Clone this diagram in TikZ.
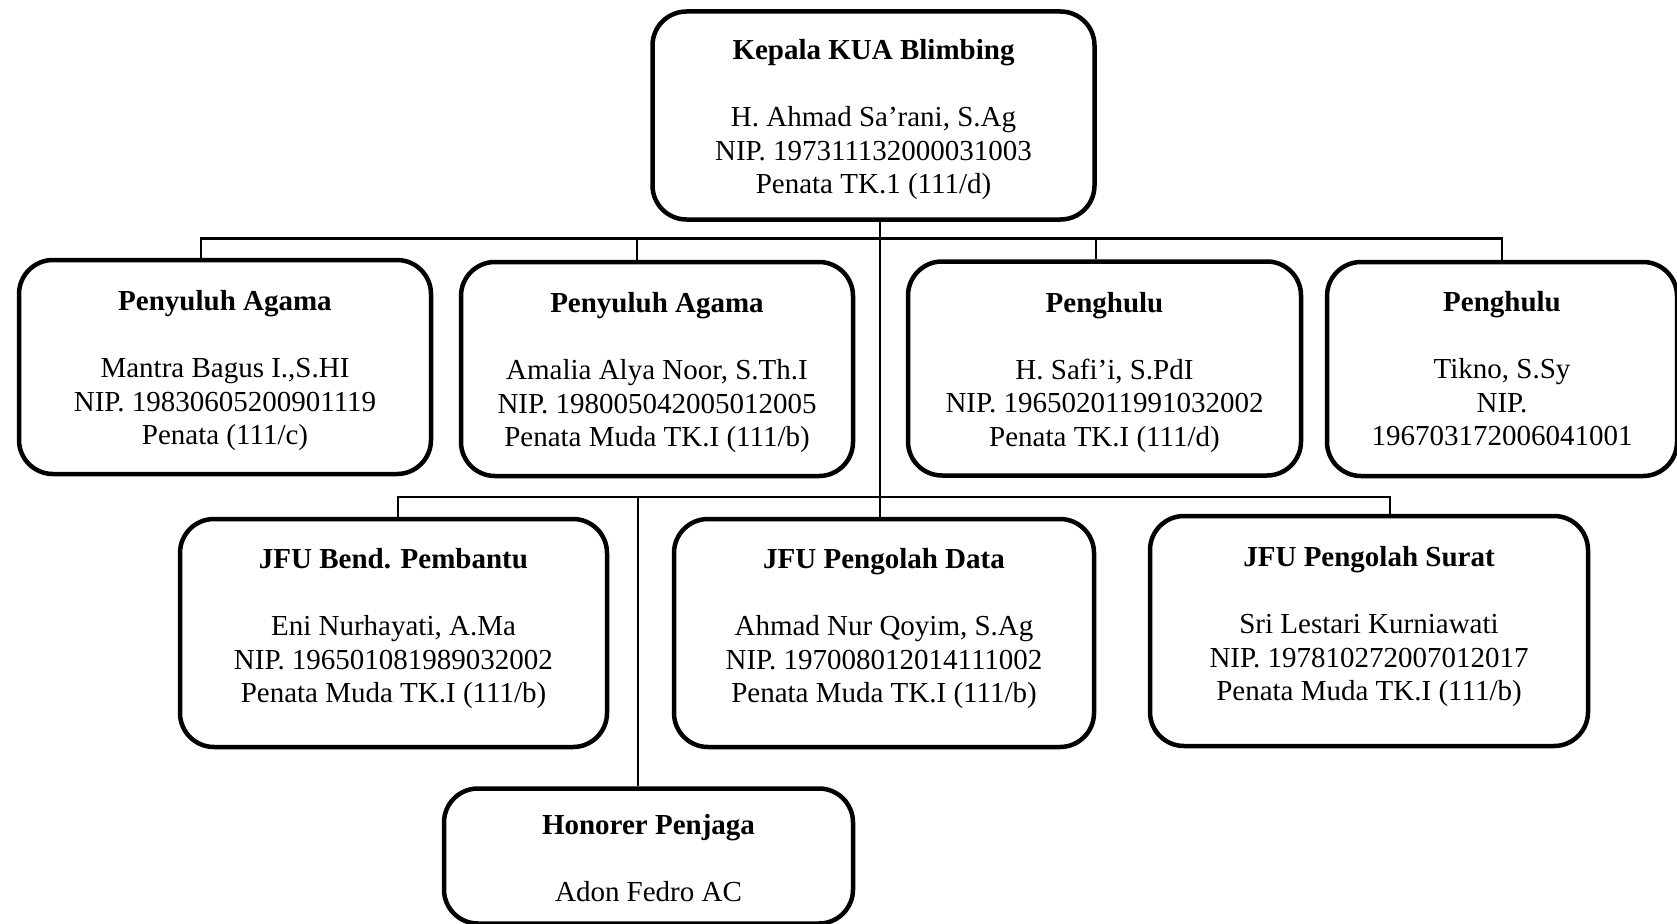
\documentclass[tikz,border=0pt]{standalone}
\usepackage{fontspec}
\setmainfont{Liberation Serif}
\usepackage{tikz}

% bold heading of a box; the optional strut moves the whole text down
\newcommand{\judul}[2][0pt]{\rule{0pt}{#1}\textbf{#2}}

\begin{document}
\begin{tikzpicture}
			[x=1pt,y=-1pt,
			%Styles
			unit/.style={draw,line width=4.5pt,rounded corners=34pt,align=center,
				inner sep=0pt,font=\fontsize{29}{33.5}\selectfont},
			textup/.style={execute at end node={\rule[-#1]{0pt}{0pt}}},
			link/.style={line width=2.8pt}
			]
			
			\useasboundingbox (0,0) rectangle (1677,923);
			
			%The boxes
			\node[unit,minimum width=442,minimum height=208] (kepala) at (873.5,115.5)
				{\judul[28.5pt]{Kepala KUA Blimbing}\\[33.5pt]H. Ahmad Sa’rani, S.Ag\\NIP. 197311132000031003\\Penata TK.1 (111/d)};
			
			\node[unit,minimum width=412,minimum height=214] (agama1) at (225,367)
				{\judul[27.5pt]{Penyuluh Agama}\\[33.5pt]Mantra Bagus I.,S.HI\\NIP. 19830605200901119\\Penata (111/c)};
			\node[unit,minimum width=392,minimum height=214] (agama2) at (657,369)
				{\judul[27.5pt]{Penyuluh Agama}\\[33.5pt]Amalia Alya Noor, S.Th.I\\NIP. 198005042005012005\\Penata Muda TK.I (111/b)};
			\node[unit,minimum width=393,minimum height=214] (hulu1) at (1104.5,368.5)
				{\judul[27.5pt]{Penghulu}\\[33.5pt]H. Safi’i, S.PdI\\NIP. 196502011991032002\\Penata TK.I (111/d)};
			\node[unit,minimum width=350,minimum height=214] (hulu2) at (1502,369)
				{\judul{Penghulu}\\[33.5pt]Tikno, S.Sy\\NIP.\\196703172006041001};
			
			\node[unit,textup=15pt,minimum width=427,minimum height=228] (bend) at (393.5,633)
				{\judul{JFU Bend. Pembantu}\\[33.5pt]Eni Nurhayati, A.Ma\\NIP. 196501081989032002\\Penata Muda TK.I (111/b)};
			\node[unit,textup=15pt,minimum width=420,minimum height=228] (data) at (884,633)
				{\judul{JFU Pengolah Data}\\[33.5pt]Ahmad Nur Qoyim, S.Ag\\NIP. 197008012014111002\\Penata Muda TK.I (111/b)};
			\node[unit,textup=15pt,minimum width=438,minimum height=230] (surat) at (1369,631)
				{\judul{JFU Pengolah Surat}\\[33.5pt]Sri Lestari Kurniawati\\NIP. 197810272007012017\\Penata Muda TK.I (111/b)};
			
			\node[unit,minimum width=409,minimum height=135] (jaga) at (648.5,856)
				{\judul[24pt]{Honorer Penjaga}\\[33.5pt]Adon Fedro AC};
			
			%The lines
			\coordinate (bus1) at (880,238.5);
			\coordinate (bus2) at (880,497);
			
			\draw[link] ([xshift=6.5]kepala.south) -- ([xshift=-4]data.north);
			\draw[link] ([xshift=-24]agama1.north) |- (bus1) -| (hulu2.north);
			\draw[link] ([xshift=-20]agama2.north) -- ([xshift=-20]agama2.north |- bus1);
			\draw[link] ([xshift=-8.5]hulu1.north) -- ([xshift=-8.5]hulu1.north |- bus1);
			
			\draw[link] ([xshift=4.5]bend.north) |- (bus2) -| ([xshift=21]surat.north);
			\draw[link] ([xshift=-10.5]jaga.north) -- ([xshift=-10.5]jaga.north |- bus2);
		\end{tikzpicture}
\end{document}
